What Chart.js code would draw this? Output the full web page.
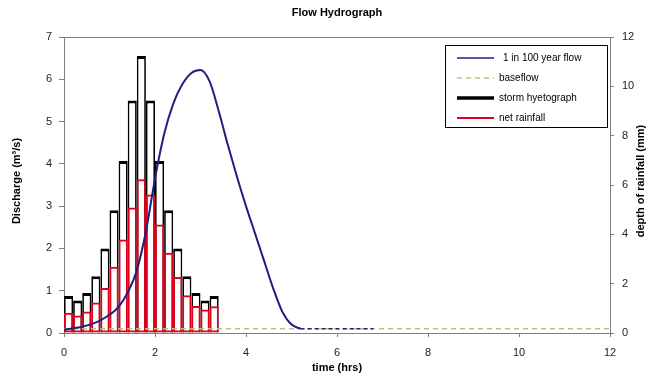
<!DOCTYPE html>
<html>
<head>
<meta charset="utf-8">
<script src="https://cdn.jsdelivr.net/npm/chart.js@4.4.1/dist/chart.umd.min.js"></script>
<style>
html,body{margin:0;padding:0;background:#fff;}
canvas{display:block;}
</style>
</head>
<body>
<canvas id="hydro" width="648" height="378"></canvas>
<script>
// rainfall blocks (0.2 hr each), centre times in hrs
const barTimes = [0.1,0.3,0.5,0.7,0.9,1.1,1.3,1.5,1.7,1.9,2.1,2.3,2.5,2.7,2.9,3.1,3.3];
const stormDepth = [1.5,1.32,1.62,2.3,3.43,4.98,6.97,9.43,11.23,9.43,6.97,4.98,3.43,2.3,1.62,1.32,1.5];
const netRain = [0.82,0.71,0.87,1.24,1.82,2.69,3.79,5.09,6.23,5.61,4.4,3.25,2.27,1.53,1.09,0.95,1.08];

// 1 in 100 year flow (m3/s)
const flowTimes = [0,0.2,0.4,0.6,0.8,1.0,1.2,1.4,1.6,1.8,2.0,2.2,2.4,2.6,2.8,3.0,3.2,3.4,3.6,3.8,4.0,4.2,4.4,4.6,4.8,5.0,5.2];
const flowQ = [0.08,0.11,0.15,0.21,0.3,0.43,0.62,0.96,1.48,2.4,3.65,4.7,5.42,5.88,6.15,6.22,5.95,5.25,4.45,3.7,3.0,2.35,1.7,1.05,0.5,0.2,0.1];
const tailTimes = [5.2,6.8];
const tailQ = [0.1,0.1];

const baseTimes = [0,12];
const baseQ = [0.1,0.1];

const FONT = '"Liberation Sans", Arial, sans-serif';
const AXIS = '#808080';

function pts(xs, ys){
return xs.map((x,i) => ({x:x, y:ys[i]}));
}

const decor = {
id:'decor',
beforeDatasetsDraw(chart){
const ctx = chart.ctx, a = chart.chartArea;
ctx.save();
ctx.strokeStyle = AXIS;
ctx.lineWidth = 1;
ctx.beginPath();
ctx.moveTo(a.left, a.top + 0.5);
ctx.lineTo(a.right, a.top + 0.5);
ctx.stroke();
ctx.restore();
},
afterDraw(chart){
const ctx = chart.ctx, a = chart.chartArea;
ctx.save();
ctx.fillStyle = '#000';
ctx.font = 'bold 11px ' + FONT;
ctx.textAlign = 'center';
ctx.textBaseline = 'middle';
ctx.fillText('Flow Hydrograph', (a.left + a.right)/2, 13);

// rotated axis titles
ctx.save();
ctx.translate(17, 181);
ctx.rotate(-Math.PI/2);
ctx.fillText('Discharge (m\u00B3/s)', 0, 0);
ctx.restore();
ctx.save();
ctx.translate(641, 181);
ctx.rotate(-Math.PI/2);
ctx.fillText('depth of rainfall (mm)', 0, 0);
ctx.restore();

// legend box
const bx = 445, by = 45, bw = 162, bh = 82;
ctx.fillStyle = '#fff';
ctx.fillRect(bx, by, bw, bh);
ctx.strokeStyle = '#000';
ctx.lineWidth = 1;
ctx.strokeRect(bx + 0.5, by + 0.5, bw, bh);
const items = chart.data.datasets.filter(d => !d.noLegend);
items.sort((p, q) => p.legendIndex - q.legendIndex);
ctx.font = '10px ' + FONT;
ctx.textAlign = 'left';
items.forEach((d, i) => {
const y = 58 + i*20;
ctx.beginPath();
ctx.strokeStyle = d.borderColor;
ctx.lineWidth = d.legendWidth;
ctx.setLineDash(d.borderDash || []);
ctx.moveTo(457, y);
ctx.lineTo(494, y);
ctx.stroke();
ctx.setLineDash([]);
ctx.fillStyle = '#000';
ctx.fillText(d.label, i === 0 ? 503 : 499, y);
});
ctx.restore();
}
};

new Chart(document.getElementById('hydro'), {
type:'bar',
data:{
datasets:[
{
type:'line',
label:'1 in 100 year flow',
legendIndex:0, legendWidth:1.5,
data:pts(flowTimes, flowQ),
yAxisID:'y',
borderColor:'#1f1f80',
borderWidth:2,
pointRadius:0,
cubicInterpolationMode:'monotone',
fill:false,
order:0
},
{
type:'line',
label:'flow tail',
noLegend:true,
data:pts(tailTimes, tailQ),
yAxisID:'y',
borderColor:'#1f1f80',
borderWidth:1.5,
borderDash:[4,3],
pointRadius:0,
fill:false,
order:0
},
{
type:'line',
label:'baseflow',
legendIndex:1, legendWidth:1.5,
data:pts(baseTimes, baseQ),
yAxisID:'y',
borderColor:'#bfc27a',
borderWidth:1.5,
borderDash:[5,4],
pointRadius:0,
fill:false,
order:1
},
{
label:'storm hyetograph',
legendIndex:2, legendWidth:3.5,
data:pts(barTimes, stormDepth),
yAxisID:'y2',
backgroundColor:'#fff',
borderColor:'#000',
borderWidth:{top:3,left:1.75,right:1.75,bottom:0},
borderSkipped:false,
inflateAmount:0,
grouped:false,
barPercentage:1,
categoryPercentage:1,
order:3
},
{
label:'net rainfall',
legendIndex:3, legendWidth:2,
data:pts(barTimes, netRain),
yAxisID:'y2',
backgroundColor:'rgba(0,0,0,0)',
borderColor:'#e0001b',
borderWidth:{top:2,left:1.75,right:1.75,bottom:2},
borderSkipped:false,
inflateAmount:0,
grouped:false,
barPercentage:1,
categoryPercentage:1,
order:2
}
]
},
options:{
responsive:false,
animation:false,
layout:{ padding:{ top:37, left:0, right:0, bottom:0 } },
plugins:{
legend:{ display:false },
title:{ display:false },
tooltip:{ enabled:false }
},
scales:{
x:{
type:'linear',
min:0, max:12,
offset:false,
ticks:{ stepSize:2, padding:9, color:'#222', font:{ family:FONT, size:11 } },
grid:{ offset:false, drawOnChartArea:false, tickLength:4, color:AXIS },
border:{ color:AXIS },
title:{ display:true, text:'time (hrs)', color:'#000', font:{ family:FONT, size:11, weight:'bold' }, padding:{ top:0, bottom:3 } },
afterFit:s => { s.height = 45; }
},
y:{
position:'left',
min:0, max:7,
ticks:{ stepSize:1, padding:7, color:'#222', font:{ family:FONT, size:11 } },
grid:{ drawOnChartArea:false, tickLength:5, color:AXIS },
border:{ color:AXIS },
afterFit:s => { s.width = 64; }
},
y2:{
position:'right',
min:0, max:12,
ticks:{ stepSize:2, padding:8, color:'#222', font:{ family:FONT, size:11 } },
grid:{ drawOnChartArea:false, tickLength:4, color:AXIS },
border:{ color:AXIS },
afterFit:s => { s.width = 38; }
}
}
},
plugins:[decor]
});
</script>
</body>
</html>
